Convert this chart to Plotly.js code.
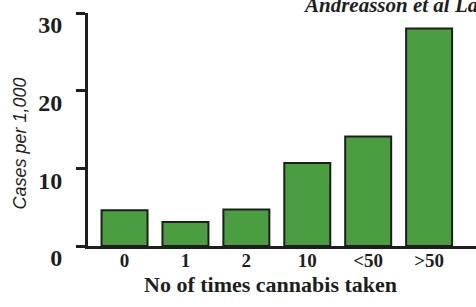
<!DOCTYPE html>
<html>
<head>
<meta charset="utf-8">
<script src="https://cdn.plot.ly/plotly-3.0.1.min.js"></script>
<style>html,body{margin:0;padding:0;background:#fff;}#chart{width:476px;height:307px;}</style>
</head>
<body>
<div id="chart"></div>
<script>
var categories = ['0', '1', '2', '10', '<50', '>50'];
var casesPer1000 = [4.6, 3.1, 4.7, 10.7, 14.1, 28.0];
var yTickVals = [0, 10, 20, 30];
var yTickText = ['0', '10', '20', '30'];
var xTitle = 'No of times cannabis taken';
var yTitle = 'Cases per 1,000';
var sourceText = 'Andreasson et al Lancet';

var trace = {
  type: 'bar',
  x: categories,
  y: casesPer1000,
  marker: {color: '#4a9e3f', line: {color: '#1e1e1e', width: 2}},
  hoverinfo: 'x+y'
};

var serif = 'Liberation Serif, Times New Roman, serif';
var layout = {
  width: 476, height: 307,
  margin: {l: 88, r: 0, t: 13, b: 61, pad: 0},
  paper_bgcolor: '#fff', plot_bgcolor: '#fff',
  showlegend: false,
  bargap: 0.245,
  xaxis: {
    type: 'category',
    range: [-0.6, 5.77],
    showline: true, linecolor: '#1e1e1e', linewidth: 3,
    ticks: '', showgrid: false, zeroline: false,
    ticklabelstandoff: -5,
    tickfont: {family: serif, size: 19, color: '#1e1e1e', weight: 'bold'},
    automargin: false, fixedrange: true
  },
  yaxis: {
    range: [0, 30],
    showline: true, linecolor: '#1e1e1e', linewidth: 3,
    ticks: 'outside', ticklen: 9, tickwidth: 3, tickcolor: '#1e1e1e',
    tickvals: yTickVals, ticktext: yTickText,
    ticklabelshift: 12, ticklabelstandoff: 9,
    showgrid: false, zeroline: false,
    tickfont: {family: serif, size: 24, color: '#1e1e1e', weight: 'bold'},
    automargin: false, fixedrange: true
  },
  annotations: [
    {text: xTitle, xref: 'paper', yref: 'paper', x: (270 - 88) / 388, y: -38 / 233,
     xanchor: 'center', yanchor: 'middle', showarrow: false,
     font: {family: serif, size: 22, color: '#1e1e1e', weight: 'bold'}},
    {text: yTitle, xref: 'paper', yref: 'paper', x: (19 - 88) / 388, y: (246 - 143.5) / 233,
     xanchor: 'center', yanchor: 'middle', showarrow: false, textangle: -90,
     font: {family: 'Liberation Sans, Arial, sans-serif', size: 18, color: '#222', style: 'italic'}},
    {text: sourceText, xref: 'paper', yref: 'paper', x: (301 - 88) / 388, y: (246 - 5) / 233,
     xanchor: 'left', yanchor: 'middle', showarrow: false,
     font: {family: serif, size: 21, color: '#1e1e1e', weight: 'bold', style: 'italic'}}
  ]
};

Plotly.newPlot('chart', [trace], layout, {displayModeBar: false, staticPlot: true});
</script>
</body>
</html>
